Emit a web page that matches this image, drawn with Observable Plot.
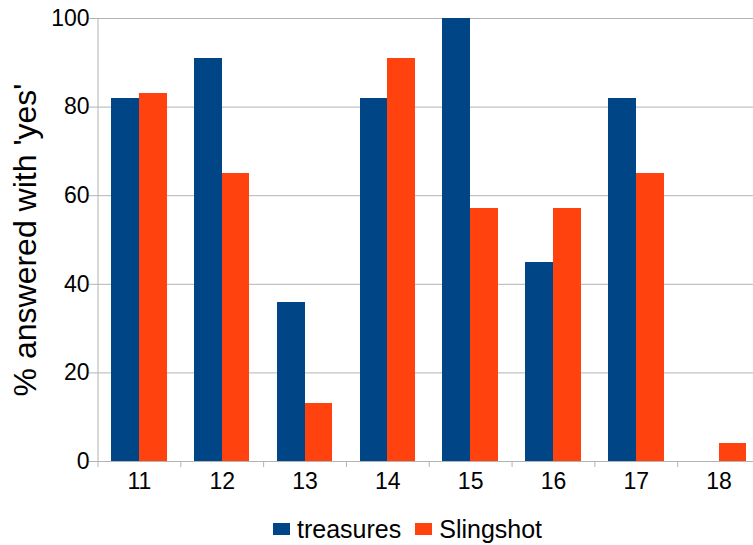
<!DOCTYPE html>
<html>
<head>
<meta charset="utf-8">
<script src="https://cdn.jsdelivr.net/npm/d3@7"></script>
<script src="https://cdn.jsdelivr.net/npm/@observablehq/plot@0.6"></script>
<style>
  body { margin: 0; background: #fff; width: 753px; height: 545px; overflow: hidden;
         font-family: "Liberation Sans", Arial, sans-serif; position: relative; }
  #chart svg { display: block; overflow: hidden; }
  #legend { position: absolute; left: 273px; top: 515px; display: flex; align-items: center;
            font-size: 25px; color: #000; line-height: 28px; white-space: nowrap; }
  #legend .item { display: flex; align-items: center; margin-right: 14px; }
  #legend .swatch { width: 17px; height: 12px; margin-right: 7px; }
</style>
</head>
<body>
<div id="chart"></div>
<div id="legend"></div>
<script>
// Share of respondents per grade who answered "yes", by program
const grades = ["11", "12", "13", "14", "15", "16", "17", "18"];
const treasures = [82, 91, 36, 82, 100, 45, 82, null];
const slingshot = [83, 65, 13, 91, 57, 57, 65, 4];
const yTicks = [0, 20, 40, 60, 80, 100];
const seriesNames = ["treasures", "Slingshot"];
const seriesColors = ["#004586", "#ff420e"];
const yTitle = "% answered with 'yes'";

const gridColor = "#b3b3b3";
const font = "'Liberation Sans', Arial, sans-serif";

// band layout: categories run past the right edge of the window
const xRange = [97.5, 760];
const step = (xRange[1] - xRange[0]) / grades.length;
const bandwidth = step * 0.67;

const rows = grades.flatMap((g, i) => [
  {grade: g, series: seriesNames[0], value: treasures[i]},
  {grade: g, series: seriesNames[1], value: slingshot[i]}
]).filter(d => d.value != null);

const chart = Plot.plot({
  width: 753,
  height: 500,
  marginTop: 18,
  marginBottom: 39,
  marginLeft: 97,
  marginRight: 0,
  style: {fontFamily: font, fontSize: "23px", color: "#000", background: "#fff"},
  x: {type: "band", domain: grades, range: xRange, paddingInner: 0.33, paddingOuter: 0.165,
      round: false, axis: null},
  y: {domain: [0, 100], axis: null},
  marks: [
    Plot.gridY(yTicks, {stroke: gridColor, strokeOpacity: 1}),
    Plot.axisY({ticks: yTicks, tickSize: 8, tickPadding: 0, stroke: gridColor, fill: "#000",
                fontSize: 23, label: null}),
    // vertical axis line
    Plot.ruleX(grades.slice(0, 1), {x: d => d, dx: -step / 2, y1: 0, y2: 100, stroke: gridColor}),
    // bars, one half of each band per series
    Plot.barY(rows.filter(d => d.series === seriesNames[0]),
      {x: "grade", y: "value", fill: seriesColors[0], insetRight: bandwidth / 2,
       shapeRendering: "crispEdges"}),
    Plot.barY(rows.filter(d => d.series === seriesNames[1]),
      {x: "grade", y: "value", fill: seriesColors[1], insetLeft: bandwidth / 2,
       shapeRendering: "crispEdges"}),
    // horizontal axis line
    Plot.ruleY([0], {stroke: gridColor}),
    // tick marks on category boundaries
    Plot.axisX({tickSize: 6, dx: -step / 2, stroke: gridColor, tickFormat: () => "", label: null}),
    // category labels
    Plot.axisX({tickSize: 0, tickPadding: 11, fill: "#000", fontSize: 23, label: null}),
    // y title
    Plot.text([yTitle], {frameAnchor: "left", textAnchor: "middle", rotate: -90, dx: -72,
                         fontSize: 32, fill: "#000"})
  ]
});
document.getElementById("chart").appendChild(chart);

const legend = document.getElementById("legend");
seriesNames.forEach((name, i) => {
  const item = document.createElement("div");
  item.className = "item";
  const sw = document.createElement("span");
  sw.className = "swatch";
  sw.style.background = seriesColors[i];
  const label = document.createElement("span");
  label.textContent = name;
  item.appendChild(sw);
  item.appendChild(label);
  legend.appendChild(item);
});
</script>
</body>
</html>
